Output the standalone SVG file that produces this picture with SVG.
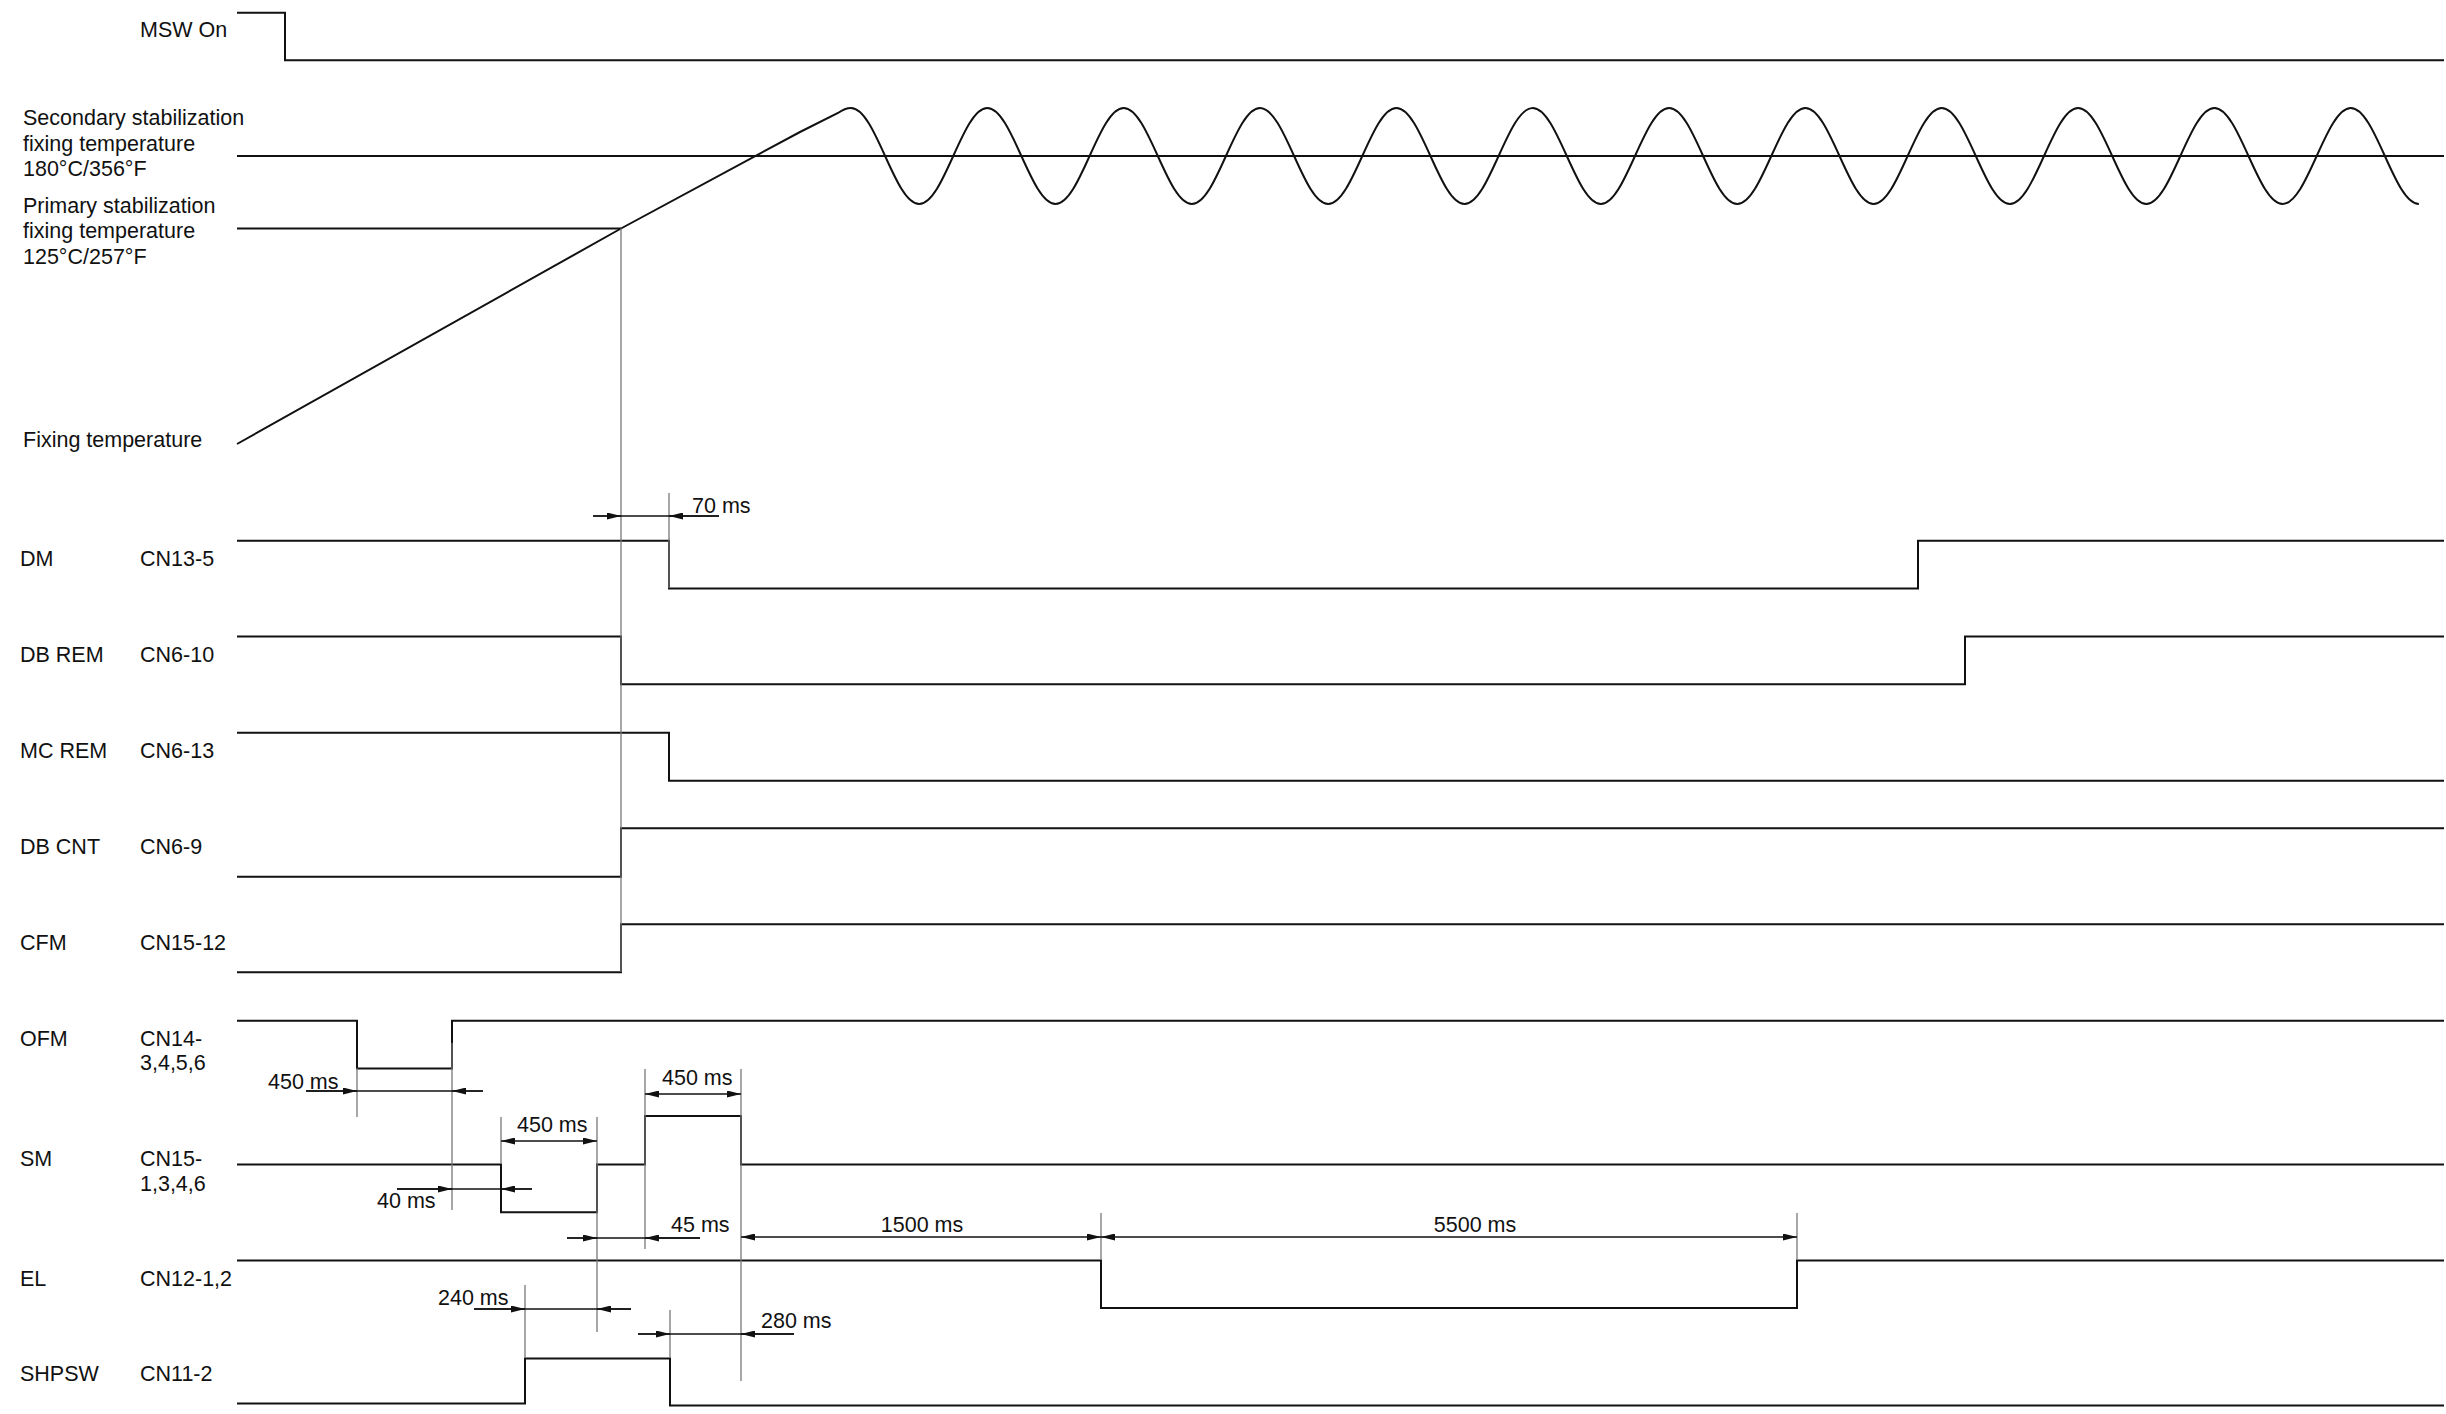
<svg xmlns="http://www.w3.org/2000/svg" width="2446" height="1414" viewBox="0 0 2446 1414">
<style>
.sig { fill: none; stroke: #111; stroke-width: 2; }
.ext { fill: none; stroke: #777; stroke-width: 1.3; }
.dim { fill: none; stroke: #111; stroke-width: 1.3; }
text { font-family: "Liberation Sans", Arial, sans-serif; font-size: 21.5px; fill: #111; }
</style>
<defs>
<marker id="ah" viewBox="0 0 14 7" refX="14" refY="3.5" markerWidth="14" markerHeight="7" markerUnits="userSpaceOnUse" orient="auto-start-reverse">
<path d="M0,0 L14,3.5 L0,7 z" fill="#111"/>
</marker>
</defs>
<rect width="2446" height="1414" fill="#fff"/>

<g id="msw">
<text x="140" y="37">MSW On</text>
<path class="sig" d="M237 12.7 H285 V60.3 H2444"/>
</g>

<g id="fixing-temperature">
<text x="23" y="125">Secondary stabilization</text>
<text x="23" y="150.5">fixing temperature</text>
<text x="23" y="176">180°C/356°F</text>
<text x="23" y="212.5">Primary stabilization</text>
<text x="23" y="238">fixing temperature</text>
<text x="23" y="263.5">125°C/257°F</text>
<text x="23" y="446.5">Fixing temperature</text>
<path class="sig" d="M237 156 H2444"/>
<path class="sig" d="M237 228.5 H621"/>
<path class="sig" d="M237 444 L621 228.5 L800 132 L838 113 Q845 108 851 108 C875.8 108 894.4 204 919.2 204 S962.5 108 987.3 108 S1030.7 204 1055.5 204 S1098.9 108 1123.7 108 S1167.1 204 1191.9 204 S1235.2 108 1260 108 S1303.4 204 1328.2 204 S1371.6 108 1396.4 108 S1439.7 204 1464.5 204 S1507.9 108 1532.7 108 S1576.1 204 1600.9 204 S1644.3 108 1669.1 108 S1712.4 204 1737.2 204 S1780.6 108 1805.4 108 S1848.8 204 1873.6 204 S1916.9 108 1941.7 108 S1985.1 204 2009.9 204 S2053.3 108 2078.1 108 S2121.5 204 2146.3 204 S2189.6 108 2214.4 108 S2257.8 204 2282.6 204 S2326 108 2350.8 108 S2394.1 204 2418.9 204"/>
</g>

<g id="dm">
<text x="20" y="566">DM</text>
<text x="140" y="566">CN13-5</text>
<path class="sig" d="M237 540.7 H669 V588.5 H1918 V540.7 H2444"/>
</g>

<g id="db-rem">
<text x="20" y="662">DB REM</text>
<text x="140" y="662">CN6-10</text>
<path class="sig" d="M237 636.5 H621 V684.3 H1965 V636.5 H2444"/>
</g>

<g id="mc-rem">
<text x="20" y="758">MC REM</text>
<text x="140" y="758">CN6-13</text>
<path class="sig" d="M237 732.7 H669 V780.7 H2444"/>
</g>

<g id="db-cnt">
<text x="20" y="854">DB CNT</text>
<text x="140" y="854">CN6-9</text>
<path class="sig" d="M237 876.7 H621 V828.3 H2444"/>
</g>

<g id="cfm">
<text x="20" y="950">CFM</text>
<text x="140" y="950">CN15-12</text>
<path class="sig" d="M237 972.3 H621 V924.3 H2444"/>
</g>

<g id="ofm">
<text x="20" y="1046">OFM</text>
<text x="140" y="1046">CN14-</text>
<text x="140" y="1070">3,4,5,6</text>
<path class="sig" d="M237 1020.7 H357 V1068.5 H452 V1020.7 H2444"/>
</g>

<g id="sm">
<text x="20" y="1166">SM</text>
<text x="140" y="1166">CN15-</text>
<text x="140" y="1191">1,3,4,6</text>
<path class="sig" d="M237 1164.5 H501 V1212.3 H597 V1164.5 H645 V1116 H741 V1164.5 H2444"/>
</g>

<g id="el">
<text x="20" y="1286">EL</text>
<text x="140" y="1286">CN12-1,2</text>
<path class="sig" d="M237 1260.5 H1101 V1308 H1797 V1260.5 H2444"/>
</g>

<g id="shpsw">
<text x="20" y="1381">SHPSW</text>
<text x="140" y="1381">CN11-2</text>
<path class="sig" d="M237 1403.5 H525 V1358.5 H670 V1405.5 H2444"/>
</g>

<g id="connectors">
<g id="extension-lines">
<path class="ext" d="M621 228.5 V972"/>
<path class="ext" d="M669 493 V588"/>
<path class="ext" d="M357 1068 V1117"/>
<path class="ext" d="M452 1043 V1210"/>
<path class="ext" d="M501 1117 V1164"/>
<path class="ext" d="M597 1117 V1332"/>
<path class="ext" d="M645 1069 V1249"/>
<path class="ext" d="M741 1069 V1381"/>
<path class="ext" d="M1101 1213 V1260"/>
<path class="ext" d="M1797 1213 V1260"/>
<path class="ext" d="M525 1285 V1358"/>
<path class="ext" d="M670 1310 V1358"/>
</g>
<g id="dimensions">
<path class="dim" d="M593 516 H719"/>
<path class="dim" d="M593 516 H621" marker-end="url(#ah)"/>
<path class="dim" d="M719 516 H669" marker-end="url(#ah)"/>
<text x="692" y="513">70 ms</text>

<path class="dim" d="M306 1091 H483"/>
<path class="dim" d="M306 1091 H357" marker-end="url(#ah)"/>
<path class="dim" d="M483 1091 H452" marker-end="url(#ah)"/>
<text x="268" y="1089">450 ms</text>

<path class="dim" d="M501 1141 H597" marker-start="url(#ah)" marker-end="url(#ah)"/>
<text x="517" y="1132">450 ms</text>

<path class="dim" d="M645 1094 H741" marker-start="url(#ah)" marker-end="url(#ah)"/>
<text x="662" y="1085">450 ms</text>

<path class="dim" d="M397 1189 H532"/>
<path class="dim" d="M397 1189 H452" marker-end="url(#ah)"/>
<path class="dim" d="M532 1189 H501" marker-end="url(#ah)"/>
<text x="377" y="1208">40 ms</text>

<path class="dim" d="M567 1238 H700"/>
<path class="dim" d="M567 1238 H597" marker-end="url(#ah)"/>
<path class="dim" d="M700 1238 H645" marker-end="url(#ah)"/>
<text x="671" y="1232">45 ms</text>

<path class="dim" d="M741 1237 H1101" marker-start="url(#ah)" marker-end="url(#ah)"/>
<text x="922" y="1232" text-anchor="middle">1500 ms</text>

<path class="dim" d="M1101 1237 H1797" marker-start="url(#ah)" marker-end="url(#ah)"/>
<text x="1475" y="1232" text-anchor="middle">5500 ms</text>

<path class="dim" d="M474 1309 H631"/>
<path class="dim" d="M474 1309 H525" marker-end="url(#ah)"/>
<path class="dim" d="M631 1309 H597" marker-end="url(#ah)"/>
<text x="438" y="1305">240 ms</text>

<path class="dim" d="M638 1334 H794"/>
<path class="dim" d="M638 1334 H670" marker-end="url(#ah)"/>
<path class="dim" d="M794 1334 H741" marker-end="url(#ah)"/>
<text x="761" y="1328">280 ms</text>
</g>
</g>
</svg>
